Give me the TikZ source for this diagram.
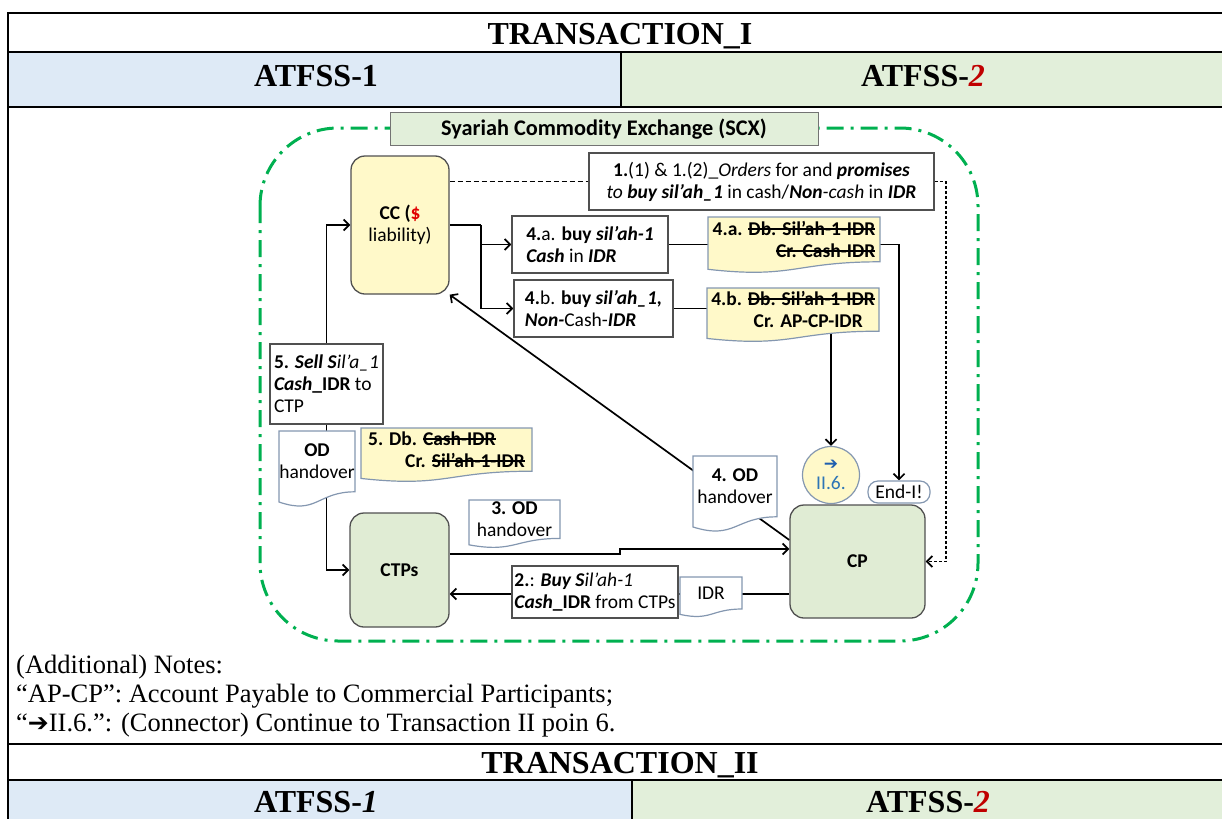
\documentclass[tikz,border=0pt]{standalone}
\usepackage{fontspec}
\setmainfont{Liberation Serif}
\newfontfamily\cali{Carlito}
\newfontfamily\dvs{DejaVu Sans}
\usetikzlibrary{arrows.meta}
\pgfdeclarelayer{bg}
\pgfsetlayers{bg,main}
\definecolor{hdrblue}{HTML}{DEEAF6}
\definecolor{hdrgreen}{HTML}{E2EFDA}
\definecolor{ared}{HTML}{C00000}
\definecolor{scxgreen}{HTML}{00B050}
\definecolor{boxgray}{HTML}{505050}
\definecolor{lyellow}{HTML}{FFF9C9}
\definecolor{lgreen}{HTML}{E0ECD4}
\definecolor{docedge}{HTML}{8497B0}
\definecolor{iiblue}{HTML}{2E75B6}
\definecolor{arrblue}{HTML}{1F5FAF}
\definecolor{dollar}{HTML}{E00000}
\newsavebox\strkbox
\newcommand\strk[1]{\sbox\strkbox{#1}\rlap{\rule[0.3em]{\wd\strkbox}{0.08em}}\usebox\strkbox}
\newcommand\dfont{\cali\fontsize{19.5}{22}\selectfont}
\newcommand\ttlfont{\bfseries\fontsize{32}{36}\selectfont}
\newcommand\notefont{\fontsize{26.5}{29}\selectfont}
\newcommand\docshape[8]{%
  \filldraw[docline, fill=#6] (#2,#3) -- (#4,#3) -- (#4,{#3+0.80*(#5-#3)})
    .. controls ({(#2+#4)/2},{#3+0.80*(#5-#3)}) and ({(#2+#4)/2},{#3+1.107*(#5-#3)}) .. (#2,{#3+0.934*(#5-#3)}) -- cycle;
  \node[docnode, minimum width={#4-#2}, minimum height={0.8*(#5-#3)}, #7] (#1) at ({(#2+#4)/2},{#3+0.4*(#5-#3)}) {#8};}
\begin{document}
\begin{tikzpicture}[x=1pt,y=-1pt,
  tbl/.style={line width=2pt, black},
  box/.style={draw=boxgray, line width=1.3pt, fill=white, inner sep=0pt, font=\dfont, text=black},
  rbox/.style={box, rounded corners=14pt},
  docline/.style={draw=docedge, line width=1.2pt},
  docnode/.style={draw=none, inner sep=0pt, align=center, font=\dfont, text=black},
  conn/.style={line width=1.7pt, black},
  arr/.style={conn, -{Straight Barb[length=5.5pt,width=11pt]}},
  ttl/.style={anchor=base, font=\ttlfont, inner sep=0pt},
  note/.style={anchor=base west, font=\notefont, inner sep=0pt}]
\useasboundingbox (0,0) rectangle (1222,819);
% table
\fill[hdrblue] (8,52) rectangle (621,107);
\fill[hdrgreen] (621,52) rectangle (1222,107);
\fill[hdrblue] (8,780) rectangle (632,819);
\fill[hdrgreen] (632,780) rectangle (1222,819);
\draw[tbl] (8,13) -- (1222,13) (8,52) -- (1222,52) (8,107) -- (1222,107)
  (8,744) -- (1222,744) (8,780) -- (1222,780) (8,12) -- (8,819)
  (621,52) -- (621,107) (632,780) -- (632,819);
\node[ttl] (tr1) at (620,44) {TRANSACTION\_I};
\node[ttl] (a11) at (316,86) {ATFSS-1};
\node[ttl] (a12) at (923,86) {ATFSS-\textcolor{ared}{\itshape 2}};
\node[ttl] (tr2) at (620,773) {TRANSACTION\_II};
\node[ttl] (a21) at (316,812) {ATFSS-\textit{1}};
\node[ttl] (a22) at (928,812) {ATFSS-\textcolor{ared}{\itshape 2}};
\node[note] (nt1) at (16,673) {(Additional) Notes:};
\node[note] (nt2) at (16,702) {“AP-CP”: Account Payable to Commercial Participants;};
\node[note] (nt3) at (16,731) {“{\dvs\fontsize{25}{25}\selectfont ➔}II.6.”: (Connector) Continue to Transaction II poin 6.};
% exchange frame
\draw[scxgreen, line width=3pt, dash pattern=on 17pt off 7pt on 3pt off 7pt, rounded corners=78pt] (260,128) rectangle (978,641);
\node[draw=boxgray!80, line width=1pt, fill=hdrgreen, minimum width=428, minimum height=33, inner sep=0pt,
  font=\cali\bfseries\fontsize{22.3}{24}\selectfont] (scxbox) at (604,129) {Syariah Commodity Exchange (SCX)};
% main nodes
\node[rbox, fill=lyellow, minimum width=98, minimum height=138, align=center] (cc) at (400,225)
  {\textbf{CC (\textcolor{dollar}{\$}}\\liability)};
\node[rbox, fill=lgreen, minimum width=99, minimum height=114] (ctps) at (399.5,570) {\textbf{CTPs}};
\node[rbox, fill=lgreen, minimum width=135, minimum height=113] (cp) at (857.5,561.5) {\textbf{CP}};
\node[box, minimum width=345, minimum height=57, align=center] (b1) at (761.5,181.5)
  {\textbf{1.}(1) \& 1.(2)\_\textit{Orders} for and \textbf{\textit{promises}}\\
   \textit{to} \textbf{\textit{buy sil’ah\_1}} in cash/\textbf{\textit{Non}}\textit{-cash} in \textbf{\textit{IDR}}};
\node[box, minimum width=156, minimum height=57, align=left] (b4a) at (590,244.5)
  {\textbf{4.}a. \textbf{buy \textit{sil’ah-1}}\\\textbf{\textit{Cash}} in \textbf{\textit{IDR}}};
\node[box, minimum width=159, minimum height=57, align=left] (b4b) at (593.5,308.5)
  {\textbf{4.}b. \textbf{buy \textit{sil’ah\_1,}}\\\textbf{\textit{Non-}}Cash-\textbf{\textit{IDR}}};
\node[box, minimum width=113, minimum height=80, align=left] (b5) at (326.5,384)
  {\textbf{5. \textit{Sell S}}\textit{il’a\_1}\\\textbf{\textit{Cash}\_IDR} to\\CTP};
\node[box, minimum width=166, minimum height=52, align=left] (b2) at (595,592)
  {\textbf{2.}: \textbf{\textit{Buy S}}\textit{il’ah-1}\\\textbf{\textit{Cash}\_IDR} from CTPs};
\node[circle, draw=docedge, line width=1.2pt, fill=lyellow, minimum size=57, inner sep=0pt, align=center, font=\dfont] (ii6) at (831,475)
  {{\dvs\fontsize{17}{17}\selectfont\textcolor{arrblue}{➔}}\\[-2pt]\textcolor{iiblue}{II.6.}};
\node[draw=docedge, line width=1.2pt, fill=white, rounded corners=10pt, minimum width=62, minimum height=22, inner sep=0pt, font=\dfont] (endI) at (899,492) {End-I!};
% documents
\docshape{od}{279}{431}{355}{507}{white}{}{\textbf{OD}\\handover}
\docshape{n5}{361}{428}{532}{482}{lyellow}{align=left}{\textbf{5. Db. \strk{Cash-IDR}}\\\hspace*{37pt}\textbf{Cr. \strk{Sil’ah-1-IDR}}}
\docshape{d3}{469}{500}{560}{548}{white}{}{\textbf{3. OD}\\handover}
\docshape{d4}{693}{456}{777}{532}{white}{}{\textbf{4. OD}\\handover}
\docshape{idr}{680}{577}{742}{617}{white}{}{IDR}
\docshape{n4a}{708}{217}{880}{273}{lyellow}{align=right}{\textbf{4.a. \strk{Db. Sil’ah-1-IDR}}\\\textbf{\strk{Cr. Cash-IDR}}}
\docshape{n4b}{707}{288}{879}{342}{lyellow}{align=right}{\textbf{4.b. \strk{Db. Sil’ah-1-IDR}}\\\textbf{Cr. AP-CP-IDR}\hspace*{12pt}}
% connectors
\begin{pgfonlayer}{bg}
\draw[conn, dash pattern=on 5pt off 3pt, line width=1.8pt] (cc.east |- b1.west) -- (b1.west);
\draw[conn, dash pattern=on 3pt off 2pt, line width=1.8pt, -{Straight Barb[length=5.5pt,width=11pt]}] (b1.east) -- ++(11,0) |- (cp.east);
\coordinate (split) at (481,225);
\draw[conn] (cc.east) -- (split);
\draw[arr] (split) |- (b4a.west);
\draw[arr] (split) |- (b4b.west);
\draw[conn] (b4a.east) -- (b4a.east -| n4a.west);
\draw[arr] (b4a.east -| n4a.east) -| (endI.north);
\draw[conn] (b4b.east) -- (b4b.east -| n4b.west);
\draw[arr] (ii6.north |- n4b.south) -- (ii6.north);
\draw[arr] (b5.north) |- (cc.west);
\draw[arr] (b5.south) |- (ctps.west);
\draw[arr] (ctps.east |- 0,554) -- (620,554) -- (620,549) -- (cp.west |- 0,549);
\draw[arr] (cp.west |- 0,594) -- (ctps.east |- 0,594);
\draw[arr] (cp.west |- 0,540) -- (cc.south east);
\end{pgfonlayer}
\end{tikzpicture}
\end{document}
